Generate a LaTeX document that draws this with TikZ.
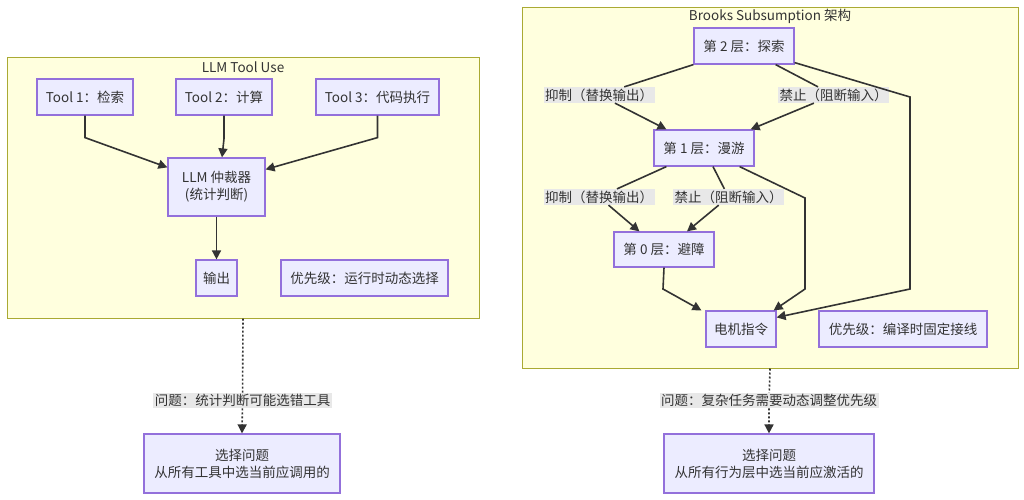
\documentclass[tikz,border=0pt]{standalone}
\usepackage{fontspec}
\setmainfont{Noto Sans CJK SC}
\usetikzlibrary{arrows.meta,calc}
\definecolor{nodefill}{HTML}{ECECFF}
\definecolor{nodeline}{HTML}{9370DB}
\definecolor{clfill}{HTML}{FFFFDE}
\definecolor{clline}{HTML}{AAAA33}
\definecolor{txt}{HTML}{333333}
\definecolor{lblgray}{HTML}{E8E8E8}
\begin{document}
\begin{tikzpicture}[x=1pt,y=-1pt,
  every node/.style={font=\fontsize{13.5}{17}\selectfont, text=txt},
  box/.style={draw=nodeline, fill=nodefill, line width=1.2pt, inner sep=0pt, align=center},
  cluster/.style={draw=clline, fill=clfill, line width=1pt, inner sep=0pt},
  lbl/.style={fill=lblgray, inner sep=1.5pt},
  arr/.style={draw=txt, line width=1.6pt, -{Triangle[length=9pt,width=9pt]}},
  dotarr/.style={arr, dash pattern=on 2pt off 2pt}]
\useasboundingbox (0,0) rectangle (1024,499);
\fill[white] (0,0) rectangle (1024,499);
% clusters
\node[cluster, minimum width=472, minimum height=261] (c1) at (243,187.5) {};
\node (c1t) at (243,67) {LLM Tool Use};
\node[cluster, minimum width=496, minimum height=361] (c2) at (770,187.5) {};
\node (c2t) at (770,16) {Brooks Subsumption 架构};
% left nodes
\node[box, minimum width=96, minimum height=36] (t1) at (85,97) {Tool 1：检索};
\node[box, minimum width=96, minimum height=36] (t2) at (224,97) {Tool 2：计算};
\node[box, minimum width=123, minimum height=36] (t3) at (377.5,97) {Tool 3：代码执行};
\node[box, minimum width=97, minimum height=58] (llm) at (216.5,187) {LLM 仲裁器\\(统计判断)};
\node[box, minimum width=41, minimum height=36] (out) at (216.5,278) {输出};
\node[box, minimum width=167, minimum height=36] (p1) at (364.5,278) {优先级：运行时动态选择};
\node[box, minimum width=196, minimum height=59] (s1) at (242,463.5) {选择问题\\从所有工具中选当前应调用的};
% right nodes
\node[box, minimum width=100, minimum height=36] (l2) at (744,46) {第 2 层：探索};
\node[box, minimum width=100, minimum height=36] (l1) at (704,148) {第 1 层：漫游};
\node[box, minimum width=100, minimum height=35] (l0) at (664,249.5) {第 0 层：避障};
\node[box, minimum width=70, minimum height=36] (mot) at (741,329) {电机指令};
\node[box, minimum width=168, minimum height=36] (p2) at (903,329) {优先级：编译时固定接线};
\node[box, minimum width=210, minimum height=59] (s2) at (769,463.5) {选择问题\\从所有行为层中选当前应激活的};
% edge labels
\node[lbl] (a1) at (599,95) {抑制（替换输出）};
\node[lbl] (b1) at (833.5,95) {禁止（阻断输入）};
\node[lbl] (a0) at (599,197) {抑制（替换输出）};
\node[lbl] (b0) at (728.5,197) {禁止（阻断输入）};
\node[lbl] (q1) at (242.5,400.5) {问题：统计判断可能选错工具};
\node[lbl] (q2) at (769,400.5) {问题：复杂任务需要动态调整优先级};
% left edges
\draw[arr] (t1.south) -- ++(0,22) -- ($(llm.north west)+(0,10)$);
\draw[arr] (t2.south) -- ++(0,23) -- ($(llm.north)+(5.5,0)$);
\draw[arr] (t3.south) -- ++(0,22) -- ($(llm.north east)+(0,12)$);
\draw[arr] (llm.south) -- (out.north);
% right edges
\draw[arr] (l2.south west) -- (a1) -- ($(l1.north west)+(13,0)$);
\draw[arr] ($(l2.south east)+(-19,0)$) -- (b1) -- ($(l1.north east)+(-4,0)$);
\draw[arr] ($(l2.south east)+(0,-2)$) -- (910,97) -- (910,289) -- ($(mot.north east)+(0,7)$);
\draw[arr] ($(l1.south west)+(13,0)$) -- (a0) -- ($(l0.north west)+(26,0)$);
\draw[arr] ($(l1.south)+(9,0)$) -- (b0) -- ($(l0.north)+(23,0)$);
\draw[arr] ($(l1.south east)+(-15,0)$) -- (805,198) -- (805,289) -- ($(mot.north east)+(-3,0)$);
\draw[arr] (l0.south) -- (663,289) -- ($(mot.north west)+(-4,0)$);
% dotted edges
\draw[dotarr] (c1.south) -- (q1) -- (s1.north);
\draw[dotarr] (c2.south) -- (q2) -- (s2.north);
\end{tikzpicture}
\end{document}
